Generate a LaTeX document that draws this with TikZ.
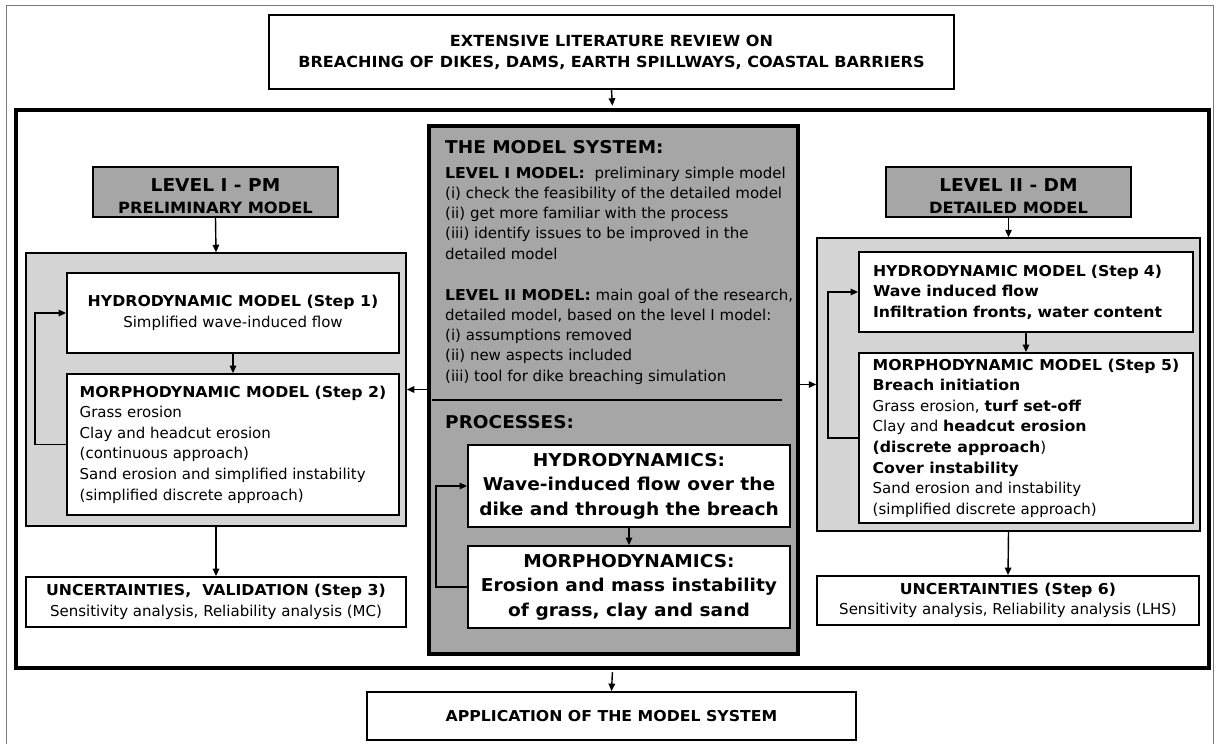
\documentclass[tikz,border=0pt]{standalone}
\usepackage{fontspec}
\setmainfont{DejaVu Sans}[BoldFeatures={FakeStretch=1.05}]
\usetikzlibrary{arrows.meta}
\definecolor{midgray}{RGB}{166,166,166}
\definecolor{panelgray}{RGB}{212,212,212}
\definecolor{framegray}{RGB}{120,120,120}
\newcommand\rf{\fontsize{15}{20.6}\selectfont}
\newcommand\bfs{\fontsize{15}{20.6}\selectfont\bfseries}
\newcommand\bigb{\fontsize{17.7}{22}\selectfont\bfseries}
\begin{document}
\begin{tikzpicture}[x=1pt,y=-1pt,line join=miter,
  box/.style={draw, line width=1.8pt, fill=white, inner sep=0pt, align=center},
  lvlbox/.style={box, fill=midgray},
  panel/.style={draw, line width=1.5pt, fill=panelgray, inner sep=0pt},
  arr/.style={-{Triangle[length=7.5pt,width=6.5pt]}, line width=1.4pt},
  ctext/.style={anchor=base west, inner sep=0pt, font=\rf},
  btext/.style={anchor=base, inner sep=0pt}]
\useasboundingbox (0,0) rectangle (1218,744);
\draw[framegray, line width=1pt] (6,744) -- (6,5) -- (1213,5) -- (1213,744);
% top box
\node[box, minimum width=685, minimum height=74, font=\fontsize{15.3}{21}\selectfont\bfseries] (top) at (611.5,52)
  {EXTENSIVE LITERATURE REVIEW ON\\BREACHING OF DIKES, DAMS, EARTH SPILLWAYS, COASTAL BARRIERS};
% thick frame
\node[draw, line width=4.5pt, minimum width=1193, minimum height=558, inner sep=0pt] (frame) at (612.5,389) {};
% central box
\node[draw, line width=3.5pt, fill=midgray, minimum width=369, minimum height=528, inner sep=0pt] (cb) at (613.5,390) {};
% level boxes
\node[lvlbox, minimum width=245, minimum height=50] (lvl1) at (215.5,192) {};
\node[btext, font=\bigb] (lvl1a) at (215.5,191.5) {LEVEL I - PM};
\node[btext, font=\fontsize{15.5}{20}\selectfont\bfseries] (lvl1b) at (215.5,213.5) {PRELIMINARY MODEL};
\node[lvlbox, minimum width=245, minimum height=50] (lvl2) at (1008.5,192) {};
\node[btext, font=\bigb] (lvl2a) at (1008.5,191.5) {LEVEL II - DM};
\node[btext, font=\fontsize{15.5}{20}\selectfont\bfseries] (lvl2b) at (1008.5,213.5) {DETAILED MODEL};
% panels
\node[panel, minimum width=380, minimum height=273] (pl) at (216,389.5) {};
\node[panel, minimum width=383, minimum height=293] (pr) at (1008.5,384.5) {};
% left boxes
\node[box, minimum width=332, minimum height=80, font=\rf] (h1) at (233,313)
  {\textbf{HYDRODYNAMIC MODEL (Step 1)}\\Simplified wave-induced flow};
\node[box, minimum width=332, minimum height=141, font=\rf, align=left] (m2) at (233,444.5)
  {\textbf{MORPHODYNAMIC MODEL (Step 2)}\\Grass erosion\\Clay and headcut erosion\\(continuous approach)\\Sand erosion and simplified instability\\(simplified discrete approach)};
\node[box, minimum width=380, minimum height=50, font=\rf] (unc3) at (216,602)
  {\textbf{UNCERTAINTIES,\ \ VALIDATION (Step 3)}\\Sensitivity analysis, Reliability analysis (MC)};
% right boxes
\node[box, minimum width=334, minimum height=80, font=\rf, align=left, text width=306] (h4) at (1026,292)
  {\textbf{HYDRODYNAMIC MODEL (Step 4)}\\\textbf{Wave induced flow}\\\textbf{Infiltration fronts, water content}};
\node[box, minimum width=334, minimum height=170, font=\rf, align=left] (m5) at (1026,438)
  {\textbf{MORPHODYNAMIC MODEL (Step 5)}\\\textbf{Breach initiation}\\Grass erosion, \textbf{turf set-off}\\Clay and \textbf{headcut erosion}\\\textbf{(discrete approach})\\\textbf{Cover instability}\\Sand erosion and instability\\(simplified discrete approach)};
\node[box, minimum width=382, minimum height=49, font=\rf] (unc6) at (1008,600.5)
  {\textbf{UNCERTAINTIES (Step 6)}\\Sensitivity analysis, Reliability analysis (LHS)};
% central processes boxes
\node[box, minimum width=322, minimum height=82, font=\fontsize{17.7}{24.5}\selectfont\bfseries] (ch) at (629,486)
  {HYDRODYNAMICS:\\Wave-induced flow over the\\dike and through the breach};
\node[box, minimum width=322, minimum height=82, font=\fontsize{17.7}{24.5}\selectfont\bfseries] (cm) at (629,587)
  {MORPHODYNAMICS:\\Erosion and mass instability\\of grass, clay and sand};
% application
\node[box, minimum width=489, minimum height=48, font=\bfs] (app) at (611.5,716)
  {APPLICATION OF THE MODEL SYSTEM};
% central text
\node[ctext, font=\fontsize{17.6}{22}\selectfont\bfseries] (t0) at (445,153.6) {THE MODEL SYSTEM:};
\node[ctext] (t1) at (445,178) {\textbf{LEVEL I MODEL:}\ \ preliminary simple model};
\node[ctext] (t2) at (445,198.3) {(i) check the feasibility of the detailed model};
\node[ctext] (t3) at (445,218.6) {(ii) get more familiar with the process};
\node[ctext] (t4) at (445,238.9) {(iii) identify issues to be improved in the};
\node[ctext] (t5) at (445,259.2) {detailed model};
\node[ctext] (t6) at (445,300) {\textbf{LEVEL II MODEL:} main goal of the research,};
\node[ctext] (t7) at (445,320.3) {detailed model, based on the level I model:};
\node[ctext] (t8) at (445,340.6) {(i) assumptions removed};
\node[ctext] (t9) at (445,360.9) {(ii) new aspects included};
\node[ctext] (t10) at (445,381.2) {(iii) tool for dike breaching simulation};
\draw[line width=1.5pt] (432,400) -- (782,400);
\node[ctext, font=\fontsize{17.6}{22}\selectfont\bfseries] (t11) at (445,428.6) {PROCESSES:};
% arrows
\draw[arr, shorten >=2pt] (top.south) -- (frame.north);
\draw[arr] (lvl1.south) -- (pl.north);
\draw[arr] (lvl2.south) -- (pr.north);
\draw[arr] (h1.south) -- (m2.north);
\draw[arr] (m2.west) -- ++(-31,0) |- (h1.west);
\draw[arr] (cb.west |- pl.east) -- (pl.east);
\draw[arr] (pl.south) -- (unc3.north);
\draw[arr] (h4.south) -- (m5.north);
\draw[arr] (m5.west) -- ++(-30,0) |- (h4.west);
\draw[arr] (cb.east |- pr.west) -- (pr.west);
\draw[arr] (pr.south) -- (unc6.north);
\draw[arr] (ch.south) -- (cm.north);
\draw[arr] (cm.west) -- ++(-31,0) |- (ch.west);
\draw[arr, shorten <=2pt] (frame.south) -- (app.north);
\end{tikzpicture}
\end{document}
